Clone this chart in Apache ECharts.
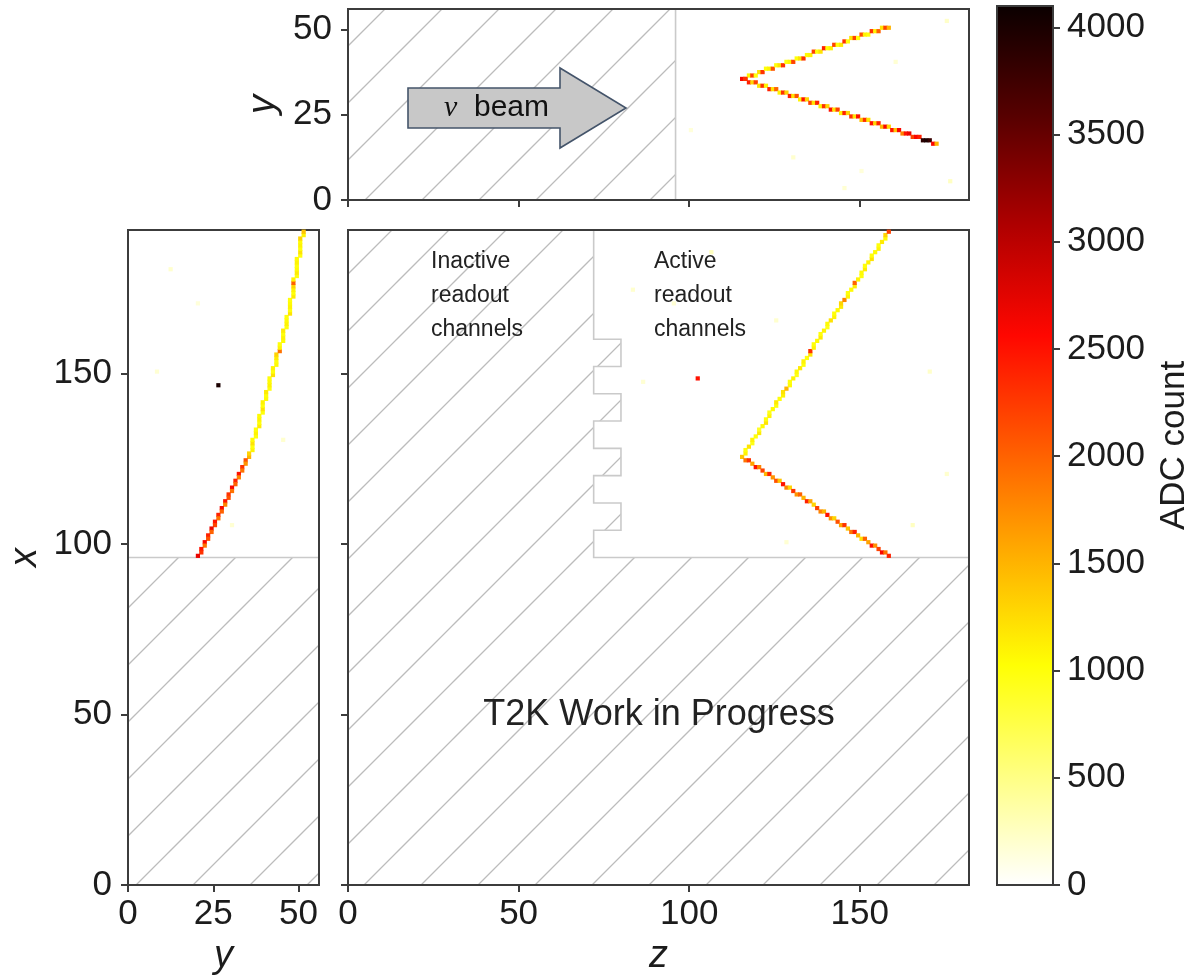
<!DOCTYPE html>
<html><head><meta charset="utf-8">
<script src="https://cdn.jsdelivr.net/npm/echarts@6/dist/echarts.min.js"></script>
<style>html,body{margin:0;padding:0;background:#fff}#c{width:1198px;height:980px}</style>
</head><body><div id="c"></div>
<script>
// ---------- axis ranges & ticks ----------
const Z_MAX = 182, X_MAX = 192, Y_MAX = 56, ADC_MAX = 4100;
const Z_TICKS = [0, 50, 100, 150];
const X_TICKS = [0, 50, 100, 150];
const Y_TICKS = [0, 25, 50];
const ADC_TICKS = [0, 500, 1000, 1500, 2000, 2500, 3000, 3500, 4000];
const HOT_COLORS = ['#ffffff', '#ffff82', '#ffff04', '#ffae00', '#ff5a00', '#ff0700', '#af0000', '#570000', '#0b0000'];

// ---------- hits, main view: [z, x, ADC] ----------
const mainTrackA = [[115,125,1400],[116,126,1100],[116,127,1000],[117,128,1200],[118,129,950],[118,130,1100],[119,131,1000],[120,132,1150],[120,133,900],[121,134,1050],[122,135,1200],[122,136,1000],[123,137,1100],[123,138,950],[124,139,1050],[125,140,1000],[125,141,1150],[126,142,1000],[127,143,1100],[127,144,1200],[128,145,1500],[129,146,1050],[129,147,1000],[130,148,1100],[131,149,950],[131,150,1050],[132,151,1150],[133,152,1000],[133,153,1100],[134,154,1000],[135,155,1200],[135,156,2300],[136,157,1100],[136,158,1000],[137,159,1050],[138,160,1150],[138,161,1000],[139,162,1100],[140,163,950],[140,164,1050],[141,165,1200],[142,166,1100],[142,167,1000],[143,168,1050],[144,169,1150],[144,170,1300],[145,171,1800],[146,172,1100],[146,173,1000],[147,174,1050],[148,175,1150],[148,176,2000],[149,177,1100],[150,178,1000],[150,179,1050],[151,180,1150],[151,181,1000],[152,182,1100],[153,183,1200],[153,184,1000],[154,185,1050],[155,186,1100],[155,187,1000],[156,188,1150],[157,189,1050],[157,190,1300],[158,191,2200]];
const mainTrackB = [[116,124,1900],[117,124,2300],[118,123,1600],[119,122,2500],[120,122,1800],[121,121,2200],[122,120,1500],[123,120,2400],[124,119,1700],[125,118,2100],[126,118,1400],[127,117,2500],[128,116,1800],[129,116,1300],[130,115,2300],[131,114,1700],[132,114,2000],[133,113,1500],[134,112,2400],[135,112,1600],[136,111,1300],[137,110,2200],[138,109,1800],[139,109,1500],[140,108,2500],[141,107,1700],[142,107,1300],[143,106,2100],[144,105,1600],[145,105,2300],[146,104,1400],[147,103,1900],[148,103,2400],[149,102,1500],[150,101,1200],[151,101,2000],[152,100,1600],[153,99,2500],[154,99,1700],[155,98,2200],[156,97,2600],[157,97,1900],[158,96,2400]];
const mainOther = [[102,148,2500],[106,185,260],[83,174,200],[86,147,180],[170,150,220],[175,120,200],[95,170,180],[125,165,200],[165,105,250],[128,100,180]];

// ---------- hits, top view: [z, y, ADC] ----------
const topTrackA = [[115,35,2600],[116,35,2000],[117,36,1100],[118,36,2200],[119,36,1000],[120,37,1200],[121,37,2300],[122,38,1000],[123,38,1100],[124,38,2100],[125,39,1000],[126,39,1200],[127,39,2300],[128,40,1000],[129,40,1100],[130,40,2200],[131,41,1000],[132,41,1200],[133,41,2300],[134,42,1050],[135,42,1100],[136,43,2200],[137,43,1000],[138,43,1200],[139,44,2400],[140,44,1000],[141,44,1100],[142,45,2200],[143,45,1000],[144,45,1150],[145,46,2300],[146,46,1000],[147,47,1200],[148,47,2200],[149,47,1000],[150,48,2100],[151,48,1100],[152,48,1000],[153,49,2300],[154,49,1100],[155,49,2000],[156,50,1200],[157,50,2200],[158,50,1500]];
const topTrackB = [[116,35,2300],[117,34,2400],[118,34,1300],[119,34,2200],[120,33,1200],[121,33,2300],[122,33,1100],[123,32,2400],[124,32,1200],[125,32,2000],[126,31,1100],[127,31,2300],[128,31,1300],[129,30,2400],[130,30,1200],[131,30,2100],[132,29,1100],[133,29,2500],[134,29,1300],[135,28,2200],[136,28,1200],[137,28,2400],[138,27,1100],[139,27,2300],[140,27,1300],[141,26,2500],[142,26,1200],[143,26,2200],[144,25,1100],[145,25,2400],[146,25,1300],[147,24,2300],[148,24,1200],[149,24,2500],[150,23,1400],[151,23,2300],[152,23,1200],[153,22,2500],[154,22,1300],[155,22,2400],[156,21,1500],[157,21,2600],[158,21,1300],[159,20,2500],[160,20,1400],[161,20,2600],[162,19,1800],[163,19,2500],[164,19,2700],[165,18,2200],[166,18,2600],[167,18,2400],[168,17,3900],[169,17,4000],[170,17,3800],[171,16,2600],[172,16,1500]];
const topOther = [[130,12,200],[160,40,180],[175,52,220],[176,5,250],[150,8,150],[100,20,150],[145,3,180]];

// ---------- hits, side view: [y, x, ADC] ----------
const sideTrackA = [[35,125,1500],[35,126,1300],[36,127,1100],[36,128,1000],[36,129,1200],[36,130,1050],[37,131,1000],[37,132,1100],[37,133,1000],[38,134,1150],[38,135,1000],[38,136,1100],[38,137,1050],[39,138,1000],[39,139,1200],[39,140,1000],[39,141,1100],[40,142,1050],[40,143,1000],[40,144,1150],[41,145,1000],[41,146,1100],[41,147,1050],[41,148,1000],[42,149,1200],[42,150,1000],[42,151,1100],[43,152,1050],[43,153,1000],[43,154,1150],[43,155,1300],[44,156,1900],[44,157,1100],[44,158,1000],[45,159,1050],[45,160,1100],[45,161,1000],[45,162,1150],[46,163,1000],[46,164,1100],[46,165,1050],[46,166,1000],[47,167,1200],[47,168,1000],[47,169,1100],[47,170,1050],[47,171,1000],[48,172,1150],[48,173,1000],[48,174,1100],[48,175,1300],[48,176,2000],[48,177,1100],[49,178,1000],[49,179,1150],[49,180,1050],[49,181,1000],[49,182,1100],[49,183,1050],[50,184,1000],[50,185,1200],[50,186,1000],[50,187,1100],[50,188,1050],[50,189,1300],[51,190,1100],[51,191,1400]];
const sideTrackB = [[34,124,2100],[34,123,1700],[33,122,2300],[33,121,1900],[32,120,2500],[32,119,1800],[31,118,2400],[31,117,2000],[30,116,2600],[30,115,1900],[29,114,2300],[29,113,2100],[28,112,2500],[28,111,1800],[27,110,2600],[27,109,2000],[26,108,2400],[26,107,1900],[25,106,2500],[25,105,2200],[24,104,2700],[24,103,2000],[23,102,2400],[23,101,2100],[22,100,2600],[22,99,1900],[21,98,2500],[21,97,2300],[20,96,2700]];
const sideOther = [[26,146,4000],[12,180,200],[8,150,180],[20,170,150],[45,130,200],[30,105,180]];

// ---------- inactive (hatched) regions & active edges ----------
const inactiveMain = [[0,0],[182,0],[182,96],[72,96],[72,104],[80,104],[80,112],[72,112],[72,120],[80,120],[80,128],[72,128],[72,136],[80,136],[80,144],[72,144],[72,152],[80,152],[80,160],[72,160],[72,192],[0,192]];
const edgeMain = [[182,96],[72,96],[72,104],[80,104],[80,112],[72,112],[72,120],[80,120],[80,128],[72,128],[72,136],[80,136],[80,144],[72,144],[72,152],[80,152],[80,160],[72,160],[72,192]];
const inactiveTop = [[0,0],[96,0],[96,56],[0,56]];
const edgeTop = [[96,0],[96,56]];
const inactiveSide = [[0,0],[56,0],[56,96],[0,96]];
const edgeSide = [[0,96],[56,96]];

// ---------- helpers ----------
function makeHatch() {
  const s = 57, c = document.createElement('canvas');
  c.width = s; c.height = s;
  const g = c.getContext('2d');
  g.strokeStyle = '#bcbcbc'; g.lineWidth = 1.3;
  const k = 52;
  g.beginPath();
  g.moveTo(-2, k + 2); g.lineTo(k + 2, -2);
  g.moveTo(k - 2, s + 2); g.lineTo(s + 2, k - 2);
  g.stroke();
  return c;
}
const HATCH = { image: makeHatch(), repeat: 'repeat' };

function cellItem(params, api) {
  const a = api.value(0), b = api.value(1);
  const p0 = api.coord([a, b + 1]);
  const p1 = api.coord([a + 1, b]);
  const e = 0.4;
  return { type: 'rect', shape: { x: p0[0] - e, y: p0[1] - e, width: p1[0] - p0[0] + 2 * e, height: p1[1] - p0[1] + 2 * e },
           style: { fill: api.visual('color') } };
}
function regionSeries(points, axisIdx) {
  return { type: 'custom', xAxisIndex: axisIdx, yAxisIndex: axisIdx, z: -1, silent: true, data: [[0, 0]],
    renderItem: (p, api) => ({ type: 'polygon', shape: { points: points.map(q => api.coord(q)) }, style: { fill: HATCH } }) };
}
function edgeSeries(points, axisIdx) {
  return { type: 'custom', xAxisIndex: axisIdx, yAxisIndex: axisIdx, z: -1, silent: true, data: [[0, 0]],
    renderItem: (p, api) => ({ type: 'polyline', shape: { points: points.map(q => api.coord(q)) }, style: { stroke: '#cacaca', lineWidth: 1.6, fill: null } }) };
}
function hitSeries(data, axisIdx) {
  return { type: 'custom', xAxisIndex: axisIdx, yAxisIndex: axisIdx, data: data, encode: { x: 0, y: 1 }, renderItem: cellItem };
}

const FONT = 'Liberation Sans';
const AX_COLOR = '#3c3c3c';
function axis(opt) {
  const base = {
    type: 'value', gridIndex: opt.grid, min: 0, max: opt.max, position: opt.position,
    splitLine: { show: false },
    axisLine: { show: true, onZero: false, lineStyle: { color: AX_COLOR, width: 2 } },
    axisTick: { show: true, length: 7, lineStyle: { color: AX_COLOR, width: 2 }, customValues: opt.ticks },
    axisLabel: { show: !!opt.labels, customValues: opt.ticks, formatter: v => String(v),
      fontSize: 35, fontFamily: FONT, color: '#1c1c1c', margin: opt.margin || 12 }
  };
  if (opt.name) {
    Object.assign(base, { name: opt.name, nameLocation: 'middle', nameGap: opt.nameGap,
      nameTextStyle: { fontSize: opt.nameSize || 38, fontStyle: opt.nameStyle || 'italic', fontFamily: FONT, color: '#1c1c1c' } });
    if (opt.nameRotate !== undefined) base.nameRotate = opt.nameRotate;
  }
  return base;
}

const colorStops = HOT_COLORS.map((c, i) => ({ offset: i / (HOT_COLORS.length - 1), color: c }));

const chart = echarts.init(document.getElementById('c'), null, { renderer: 'canvas' });
const gridStyle = { show: true, borderColor: AX_COLOR, borderWidth: 2, backgroundColor: 'transparent' };

chart.setOption({
  backgroundColor: '#ffffff',
  animation: false,
  grid: [
    Object.assign({ left: 348, top: 9, width: 621, height: 191 }, gridStyle),
    Object.assign({ left: 128, top: 230, width: 191, height: 656 }, gridStyle),
    Object.assign({ left: 348, top: 230, width: 621, height: 656 }, gridStyle),
    Object.assign({ left: 997, top: 6, width: 56, height: 879 }, gridStyle)
  ],
  xAxis: [
    axis({ grid: 0, max: Z_MAX, position: 'bottom', ticks: Z_TICKS, labels: false }),
    axis({ grid: 1, max: Y_MAX, position: 'bottom', ticks: Y_TICKS, labels: true, margin: 12, name: 'y', nameGap: 35 }),
    axis({ grid: 2, max: Z_MAX, position: 'bottom', ticks: Z_TICKS, labels: true, margin: 12, name: 'z', nameGap: 33 }),
    { type: 'value', gridIndex: 3, min: 0, max: 1, show: false }
  ],
  yAxis: [
    axis({ grid: 0, max: Y_MAX, position: 'left', ticks: Y_TICKS, labels: true, margin: 16, name: 'y', nameGap: 64, nameRotate: 90 }),
    axis({ grid: 1, max: X_MAX, position: 'left', ticks: X_TICKS, labels: true, margin: 16, name: 'x', nameGap: 84, nameRotate: 90 }),
    axis({ grid: 2, max: X_MAX, position: 'left', ticks: X_TICKS, labels: false }),
    axis({ grid: 3, max: ADC_MAX, position: 'right', ticks: ADC_TICKS, labels: true, margin: 14, name: 'ADC count', nameGap: 104, nameRotate: 90, nameStyle: 'normal', nameSize: 35 })
  ],
  visualMap: {
    type: 'continuous', show: false, min: 0, max: ADC_MAX, dimension: 2,
    seriesIndex: [6, 7, 8], inRange: { color: HOT_COLORS }
  },
  series: [
    regionSeries(inactiveTop, 0), edgeSeries(edgeTop, 0),
    regionSeries(inactiveSide, 1), edgeSeries(edgeSide, 1),
    regionSeries(inactiveMain, 2), edgeSeries(edgeMain, 2),
    hitSeries(topTrackA.concat(topTrackB, topOther), 0),
    hitSeries(sideTrackA.concat(sideTrackB, sideOther), 1),
    hitSeries(mainTrackA.concat(mainTrackB, mainOther), 2),
    { type: 'custom', xAxisIndex: 3, yAxisIndex: 3, z: -1, silent: true, data: [[0, 0]],
      renderItem: (p, api) => {
        const a = api.coord([0, ADC_MAX]), b = api.coord([1, 0]);
        return { type: 'rect', shape: { x: a[0], y: a[1], width: b[0] - a[0], height: b[1] - a[1] },
          style: { fill: new echarts.graphic.LinearGradient(0, 1, 0, 0, colorStops) } };
      } }
  ],
  graphic: [
    { type: 'polygon', shape: { points: [[408,88],[560,88],[560,68],[626,108],[560,148],[560,128],[408,128]] },
      style: { fill: '#c8c8c8', stroke: '#44546a', lineWidth: 1.6 } },
    { type: 'text', x: 444, y: 108, style: { text: '{n|ν}  beam', fontSize: 30, fontFamily: FONT, fill: '#111', verticalAlign: 'middle',
      rich: { n: { fontSize: 30, fontStyle: 'italic', fontFamily: 'Liberation Serif', fill: '#111' } } } },
    { type: 'text', x: 431, y: 245, style: { text: 'Inactive\nreadout\nchannels', fontSize: 23, lineHeight: 34, fontFamily: FONT, fill: '#222' } },
    { type: 'text', x: 654, y: 245, style: { text: 'Active\nreadout\nchannels', fontSize: 23, lineHeight: 34, fontFamily: FONT, fill: '#222' } },
    { type: 'text', x: 659, y: 715, style: { text: 'T2K Work in Progress', fontSize: 36, fontFamily: FONT, fill: '#222', align: 'center', verticalAlign: 'middle' } }
  ]
});
</script>
</body></html>
